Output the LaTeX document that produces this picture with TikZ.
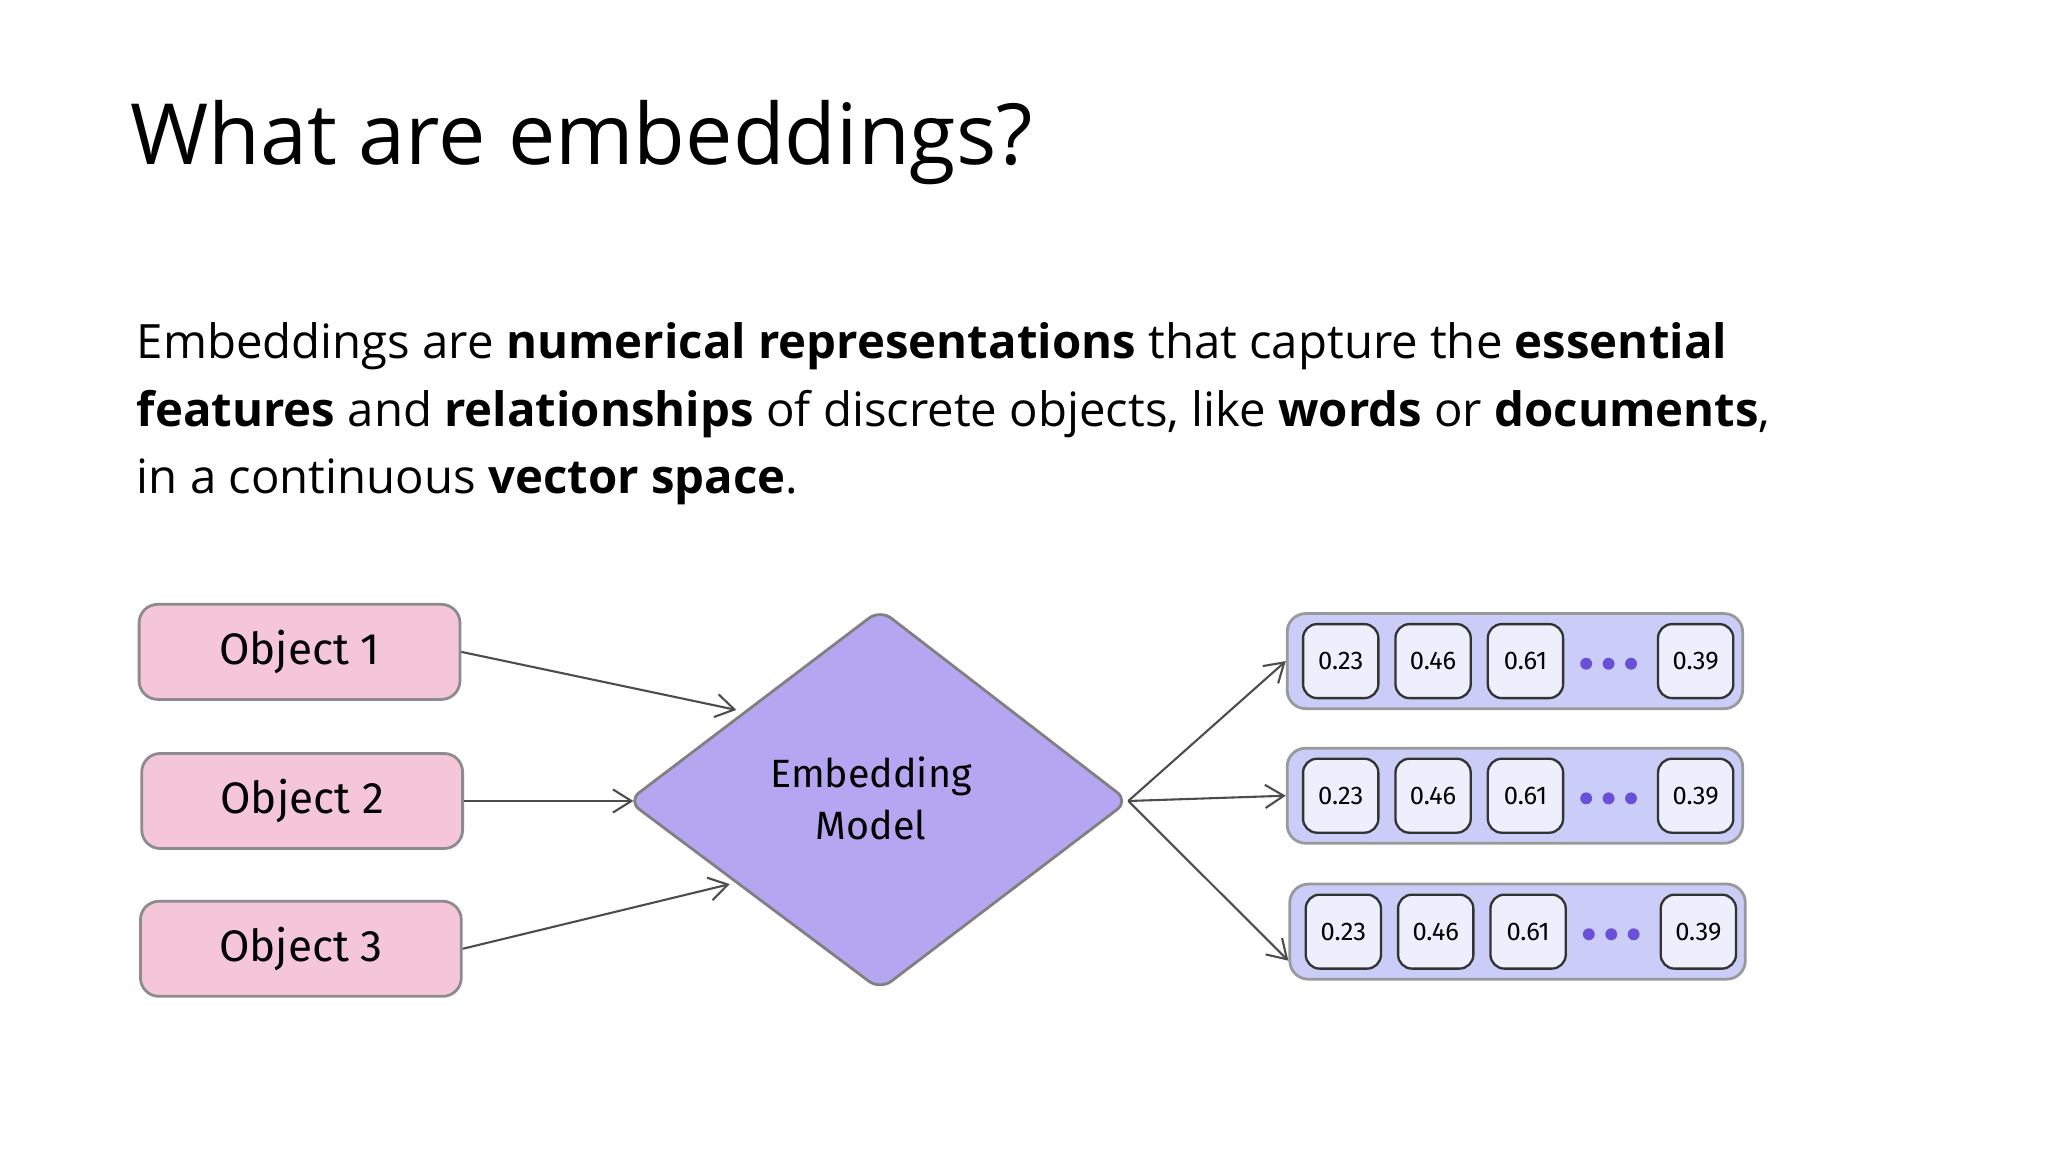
\documentclass[tikz,border=0pt]{standalone}
\usepackage{fontspec}
\setmainfont{Open Sans}
\newfontfamily\hand{Fira Sans}
\usetikzlibrary{arrows.meta}
\definecolor{pinkfill}{HTML}{F4C6D8}
\definecolor{diafill}{HTML}{B4A6F0}
\definecolor{vecfill}{HTML}{C9CDF8}
\definecolor{cellfill}{HTML}{EEEFFC}
\definecolor{dotcol}{HTML}{6A4FD8}
\begin{document}
\begin{tikzpicture}[x=0.01cm,y=-0.01cm,
  objbox/.style={draw=black!45,fill=pinkfill,rounded corners=4pt,line width=0.6pt,minimum width=2.43cm,minimum height=0.72cm,font=\hand\fontsize{9.5}{11}\selectfont},
  vecbox/.style={draw=black!40,fill=vecfill,rounded corners=4pt,line width=0.6pt,minimum width=3.45cm,minimum height=0.72cm},
  cell/.style={draw=black!80,fill=cellfill,rounded corners=3pt,line width=0.5pt,minimum width=0.57cm,minimum height=0.56cm,inner sep=0pt,font=\hand\fontsize{5.5}{7}\selectfont},
  dot/.style={circle,fill=dotcol,inner sep=0pt,minimum size=0.09cm},
  arr/.style={draw=black!70,line width=0.45pt,-{Straight Barb[length=4pt,width=5pt]}}]
\path[use as bounding box,fill=white] (0,0) rectangle (1552,873);
\node[anchor=base west,inner sep=0,font=\fontsize{18.2}{21}\selectfont] (title) at (98,125) {What are embeddings?};
\node[anchor=north west,inner sep=0,font=\fontsize{10.2}{14.5}\selectfont,align=left] (para) at (103,244)
 {Embeddings are \textbf{numerical representations} that capture the \textbf{essential}\\
 \textbf{features} and \textbf{relationships} of discrete objects, like \textbf{words} or \textbf{documents},\\
 in a continuous \textbf{vector space}.};
\node[objbox] (o1) at (227,494) {Object 1};
\node[objbox] (o2) at (229,607) {Object 2};
\node[objbox] (o3) at (228,719) {Object 3};
\coordinate (dl) at (476,607); \coordinate (dt) at (667,462);
\coordinate (dr) at (855,607); \coordinate (db) at (667,750);
\path[draw=black!50,fill=diafill,line width=0.6pt,rounded corners=3pt] (dl)--(dt)--(dr)--(db)--cycle;
\node[font=\hand\fontsize{8.5}{11}\selectfont,align=center] (em) at (660,605) {Embedding\\Model};
\coordinate (a1) at (558,538); \coordinate (a2) at (480,607); \coordinate (a3) at (553,670);
\draw[arr] (o1.east) -- (a1);
\draw[arr] (o2.east) -- (a2);
\draw[arr] (o3.east) -- (a3);
\foreach \i/\x/\y in {1/1148/501,2/1148/603,3/1150/706}{
  \node[vecbox] (v\i) at (\x,\y) {};
  \node[cell] (c\i a) at (\x-132,\y) {0.23};
  \node[cell] (c\i b) at (\x-62,\y) {0.46};
  \node[cell] (c\i c) at (\x+8,\y) {0.61};
  \node[dot] (d\i a) at (\x+54,\y+2) {};
  \node[dot] (d\i b) at (\x+71,\y+2) {};
  \node[dot] (d\i c) at (\x+88,\y+2) {};
  \node[cell] (c\i d) at (\x+137,\y) {0.39};
}
\draw[arr] (dr) -- (v1.west);
\draw[arr] (dr) -- (v2.west);
\draw[arr] (dr) -- ([yshift=-0.22cm]v3.west);
\end{tikzpicture}
\end{document}
